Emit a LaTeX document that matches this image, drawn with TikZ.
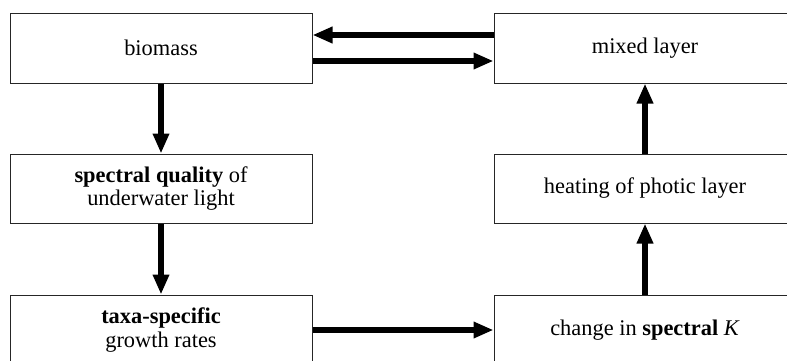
\documentclass[tikz,border=0pt]{standalone}
\usepackage{fontspec}
\setmainfont{Liberation Serif}
\usetikzlibrary{arrows.meta}
\begin{document}
\begin{tikzpicture}[x=1pt,y=-1pt,
  box/.style={draw=black!85, line width=1pt, rectangle, minimum width=302pt, minimum height=70pt, inner sep=0pt, align=center, font=\fontsize{22.4}{23.5}\selectfont},
  flow/.style={line width=6.5pt, -{Triangle[length=20pt,width=15.5pt]}}
]
\useasboundingbox (0,0) rectangle (787,360);
\clip (0,0) rectangle (787,360);
\node[box] (bio) at (161,48) {biomass};
\node[box] (mix) at (645,48) {mixed layer};
\node[box, minimum height=69pt] (spq) at (161,188.5) {\textbf{spectral quality} of\\underwater light};
\node[box, minimum height=69pt] (heat) at (645,188.5) {heating of photic layer};
\node[box] (taxa) at (161,330) {\textbf{taxa-specific}\\growth rates};
\node[box] (chg) at (645,330) {change in \textbf{spectral} \textit{K}};
\draw[flow] ([yshift=13pt]mix.west) -- ([yshift=13pt]bio.east);
\draw[flow] ([yshift=-13pt]bio.east) -- ([yshift=-13pt]mix.west);
\draw[flow] (bio.south) -- (spq.north);
\draw[flow] (spq.south) -- (taxa.north);
\draw[flow] (taxa.east |- chg.west) -- (chg.west);
\draw[flow] (chg.north) -- (heat.south);
\draw[flow] (heat.north) -- (mix.south);
\end{tikzpicture}
\end{document}
